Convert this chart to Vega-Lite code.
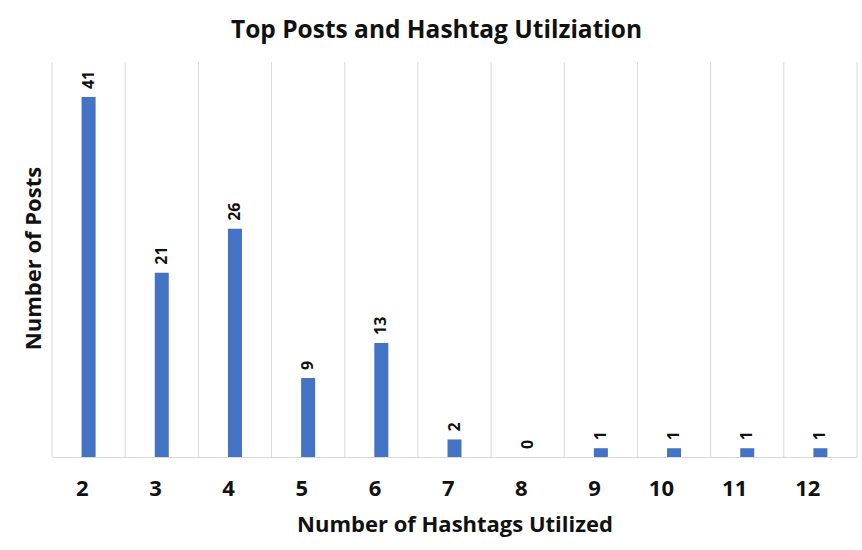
{
  "$schema": "https://vega.github.io/schema/vega-lite/v6.json",
  "width": 805,
  "height": 395,
  "autosize": {"type": "none"},
  "padding": {"left": 52, "top": 62, "right": 5, "bottom": 93},
  "background": "white",
  "config": {
    "font": "Open Sans",
    "view": {"stroke": null}
  },
  "title": {
    "text": "Top Posts and Hashtag Utilziation",
    "fontSize": 24.5,
    "fontWeight": "bold",
    "color": "#111111",
    "anchor": "middle",
    "dx": -18,
    "offset": 18
  },
  "data": {
    "values": [
      {"hashtags": "2", "posts": 41},
      {"hashtags": "3", "posts": 21},
      {"hashtags": "4", "posts": 26},
      {"hashtags": "5", "posts": 9},
      {"hashtags": "6", "posts": 13},
      {"hashtags": "7", "posts": 2},
      {"hashtags": "8", "posts": 0},
      {"hashtags": "9", "posts": 1},
      {"hashtags": "10", "posts": 1},
      {"hashtags": "11", "posts": 1},
      {"hashtags": "12", "posts": 1}
    ]
  },
  "layer": [
    {
      "mark": {"type": "rule", "color": "#D9D9D9", "strokeWidth": 1},
      "encoding": {
        "x": {"field": "hashtags", "type": "ordinal", "sort": null, "bandPosition": 0}
      }
    },
    {
      "transform": [{"filter": "datum.hashtags == '12'"}],
      "mark": {"type": "rule", "color": "#D9D9D9", "strokeWidth": 1},
      "encoding": {
        "x": {"field": "hashtags", "type": "ordinal", "sort": null, "bandPosition": 1}
      }
    },
    {
      "mark": {"type": "bar", "color": "#4472C4", "size": 14},
      "encoding": {
        "x": {
          "field": "hashtags",
          "type": "ordinal",
          "sort": null,
          "scale": {"paddingInner": 0, "paddingOuter": 0},
          "axis": {
            "title": "Number of Hashtags Utilized",
            "labelAngle": 0,
            "labelFontSize": 22,
            "labelFontWeight": "bold",
            "labelColor": "#111111",
            "labelPadding": 31,
            "ticks": false,
            "domainColor": "#D9D9D9",
            "domainWidth": 1,
            "grid": false,
            "titleFontSize": 22,
            "titleFontWeight": "bold",
            "titleColor": "#111111",
            "titleY": 67,
            "titleBaseline": "middle"
          }
        },
        "y": {
          "field": "posts",
          "type": "quantitative",
          "scale": {"domain": [0, 45], "nice": false},
          "axis": {
            "title": "Number of Posts",
            "labels": false,
            "ticks": false,
            "domain": false,
            "grid": false,
            "titleFontSize": 22,
            "titleFontWeight": "bold",
            "titleColor": "#111111",
            "titleX": -19,
            "titleY": 196,
            "titleAlign": "center",
            "titleBaseline": "middle",
            "titleAngle": -90
          }
        }
      }
    },
    {
      "mark": {"type": "text", "angle": 270, "align": "left", "baseline": "middle", "dx": 8, "fontSize": 16, "fontWeight": "bold", "color": "#111111"},
      "encoding": {
        "x": {"field": "hashtags", "type": "ordinal", "sort": null},
        "y": {"field": "posts", "type": "quantitative"},
        "text": {"field": "posts", "type": "quantitative"}
      }
    }
  ]
}
